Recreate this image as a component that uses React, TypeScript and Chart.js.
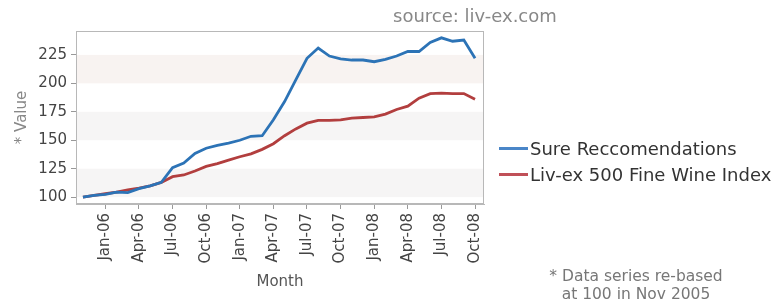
import React, { useEffect, useRef } from "react";
import { Chart, registerables } from "chart.js";

Chart.register(...registerables);

const months = [
  "Nov-05", "Dec-05",
  "Jan-06", "Feb-06", "Mar-06", "Apr-06", "May-06", "Jun-06", "Jul-06", "Aug-06", "Sep-06", "Oct-06", "Nov-06", "Dec-06",
  "Jan-07", "Feb-07", "Mar-07", "Apr-07", "May-07", "Jun-07", "Jul-07", "Aug-07", "Sep-07", "Oct-07", "Nov-07", "Dec-07",
  "Jan-08", "Feb-08", "Mar-08", "Apr-08", "May-08", "Jun-08", "Jul-08", "Aug-08", "Sep-08", "Oct-08",
];

const tickMonths = ["Jan-06", "Apr-06", "Jul-06", "Oct-06", "Jan-07", "Apr-07", "Jul-07", "Oct-07", "Jan-08", "Apr-08", "Jul-08", "Oct-08"];

const sureValues = [
  100, 101.5, 102.5, 104.5, 104, 107.5, 110, 113, 126, 130, 138.5, 143, 145.5, 147.5, 150, 153.5, 154,
  168, 184, 203, 222, 231, 224, 221.5, 220.5, 220.5, 219, 221, 224, 228, 228, 236, 240, 237, 238, 222,
];

const livexValues = [
  100, 101.5, 103, 104.5, 106.5, 108, 110, 113, 118, 119.5, 123, 127, 129.5, 132.5, 135.5, 138, 142,
  147, 154, 160, 165, 167.5, 167.5, 168, 169.5, 170, 170.5, 173, 177, 180, 187, 191, 191.5, 191, 191, 186,
];

const yTicks = [100, 125, 150, 175, 200, 225];
const seriesNames = ["Sure Reccomendations", "Liv-ex 500 Fine Wine Index"];

const BLUE = "#2c73b6";
const RED = "#b23e3e";
const FONT = "'DejaVu Sans', sans-serif";

const bandsPlugin = {
  id: "bands",
  beforeDatasetsDraw(chart: any) {
    const { ctx, chartArea, scales } = chart;
    const y = scales.y;
    ctx.save();
    for (let i = 0; i + 1 < yTicks.length; i += 2) {
      const top = y.getPixelForValue(yTicks[i + 1]);
      const bot = y.getPixelForValue(yTicks[i]);
      ctx.fillStyle = i === 4 ? "#f8f3f1" : "#f6f5f5";
      ctx.fillRect(chartArea.left, top, chartArea.right - chartArea.left, bot - top);
    }
    ctx.restore();
  },
  afterDraw(chart: any) {
    const { ctx, chartArea } = chart;
    ctx.save();
    ctx.strokeStyle = "#b8b8b8";
    ctx.lineWidth = 1;
    ctx.strokeRect(chartArea.left + 0.5, chartArea.top + 0.5, chartArea.right - chartArea.left - 1, chartArea.bottom - chartArea.top - 1);
    ctx.restore();
  },
};

export default function App() {
  const ref = useRef<HTMLCanvasElement | null>(null);

  useEffect(() => {
    if (!ref.current) return;
    const chart = new Chart(ref.current, {
      type: "line",
      data: {
        datasets: [
          {
            label: seriesNames[0],
            data: sureValues.map((v, i) => ({ x: i, y: v })),
            borderColor: BLUE,
            borderWidth: 2.8,
            pointRadius: 0,
            tension: 0,
          },
          {
            label: seriesNames[1],
            data: livexValues.map((v, i) => ({ x: i, y: v })),
            borderColor: RED,
            borderWidth: 2.8,
            pointRadius: 0,
            tension: 0,
          },
        ],
      },
      options: {
        responsive: false,
        animation: false,
        layout: { padding: { top: 31, right: 298, left: 0, bottom: 0 } },
        plugins: { legend: { display: false }, tooltip: { enabled: false } },
        scales: {
          x: {
            type: "linear",
            min: -0.62,
            max: 35.8,
            afterBuildTicks: (scale: any) => {
              scale.ticks = tickMonths.map((m) => ({ value: months.indexOf(m) }));
            },
            afterFit: (scale: any) => {
              scale.height = 103;
            },
            ticks: {
              autoSkip: false,
              minRotation: 90,
              maxRotation: 90,
              padding: 4,
              color: "#444",
              font: { family: FONT, size: 15 },
              callback: (v: any) => months[v as number],
            },
            grid: { drawOnChartArea: false, drawTicks: true, tickLength: 5, color: "#999" },
            border: { display: true, color: "#b8b8b8" },
            title: {
              display: true,
              text: "Month",
              color: "#555",
              font: { family: FONT, size: 15 },
              padding: { top: 0, bottom: 16 },
            },
          },
          y: {
            type: "linear",
            min: 94,
            max: 246,
            afterBuildTicks: (scale: any) => {
              scale.ticks = yTicks.map((v) => ({ value: v }));
            },
            afterFit: (scale: any) => {
              scale.width = 76;
            },
            ticks: {
              padding: 4,
              color: "#444",
              font: { family: FONT, size: 15 },
            },
            grid: { drawOnChartArea: false, drawTicks: true, tickLength: 5, color: "#999" },
            border: { display: true, color: "#b8b8b8" },
            title: {
              display: true,
              text: "* Value",
              color: "#888",
              font: { family: FONT, size: 15 },
              padding: { top: 13, bottom: 0 },
            },
          },
        },
      },
      plugins: [bandsPlugin],
    } as any);
    return () => chart.destroy();
  }, []);

  const legendRow = (color: string, text: string, top: number) => (
    <div style={{ position: "absolute", left: 499, top, height: 22, display: "flex", alignItems: "center" }}>
      <div style={{ width: 29, height: 3, background: color, marginRight: 2 }} />
      <span style={{ fontFamily: FONT, fontSize: 18, color: "#333", whiteSpace: "nowrap" }}>{text}</span>
    </div>
  );

  return (
    <div style={{ position: "fixed", left: 0, top: 0, width: 782, height: 307, background: "#fff", overflow: "hidden" }}>
      <canvas ref={ref} width={782} height={307} style={{ position: "absolute", left: 0, top: 0, width: 782, height: 307 }} />
      <div style={{ position: "absolute", left: 393, top: 5, fontFamily: FONT, fontSize: 18, color: "#888", whiteSpace: "nowrap" }}>
        source: liv-ex.com
      </div>
      {legendRow("#4a86c8", seriesNames[0], 137)}
      {legendRow("#c05058", seriesNames[1], 163)}
      <div style={{ position: "absolute", left: 526, top: 267, width: 220, textAlign: "center", fontFamily: FONT, fontSize: 15.5, lineHeight: "18px", color: "#777", whiteSpace: "nowrap" }}>
        * Data series re-based
        <br />
        at 100 in Nov 2005
      </div>
    </div>
  );
}
